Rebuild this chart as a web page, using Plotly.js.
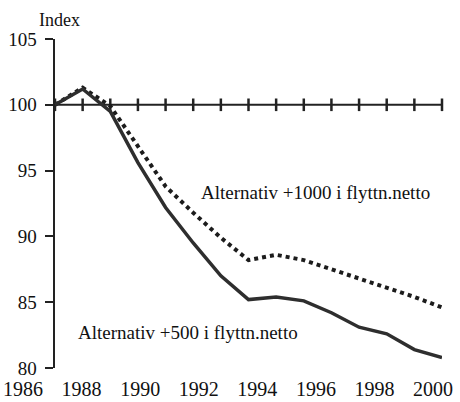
<!DOCTYPE html>
<html>
<head>
<meta charset="utf-8">
<script src="https://cdn.plot.ly/plotly-3.0.1.min.js"></script>
<style>
  html, body { margin: 0; padding: 0; background: #fff; }
  #chart { width: 460px; height: 402px; }
</style>
</head>
<body>
<div id="chart"></div>
<script>
// Years on the x axis
const years = [1986, 1987, 1988, 1989, 1990, 1991, 1992, 1993, 1994, 1995, 1996, 1997, 1998, 1999, 2000];
// Index base line (1986 = 100)
const baseIndex = [100, 100, 100, 100, 100, 100, 100, 100, 100, 100, 100, 100, 100, 100, 100];
// Alternativ +500 i flyttn.netto (solid)
const alt500 = [100, 101.2, 99.5, 95.6, 92.2, 89.5, 87.0, 85.2, 85.4, 85.1, 84.2, 83.1, 82.6, 81.4, 80.8];
// Alternativ +1000 i flyttn.netto (dotted)
const alt1000 = [100, 101.3, 99.9, 96.8, 93.8, 91.8, 89.9, 88.2, 88.6, 88.2, 87.5, 86.8, 86.1, 85.4, 84.6];
// Tick labels shown under the chart
const yearLabels = [1986, 1988, 1990, 1992, 1994, 1996, 1998, 2000];
const yTicks = [80, 85, 90, 95, 100, 105];

const serif = 'Liberation Serif, Times New Roman, serif';
const ink = '#222';

function renderChart(containerId) {
  const container = document.getElementById(containerId);
  if (!container) return;

  const traces = [
    {
      x: years, y: baseIndex,
      type: 'scatter', mode: 'lines+markers',
      line: { color: ink, width: 2 },
      marker: { symbol: 'line-ns-open', size: 9, line: { color: ink, width: 2.5 } },
      cliponaxis: false,
      hoverinfo: 'skip'
    },
    {
      x: years, y: alt1000,
      name: 'Alternativ +1000 i flyttn.netto',
      type: 'scatter', mode: 'lines',
      line: { color: '#1c1c1c', width: 4, dash: '4px,4px' },
      cliponaxis: false
    },
    {
      x: years, y: alt500,
      name: 'Alternativ +500 i flyttn.netto',
      type: 'scatter', mode: 'lines',
      line: { color: '#2e2e2e', width: 3.5 },
      cliponaxis: false
    },
    // empty trace so the label axis gets drawn
    {
      x: yearLabels, y: yearLabels.map(() => null),
      xaxis: 'x2', yaxis: 'y',
      type: 'scatter', mode: 'markers',
      hoverinfo: 'skip'
    }
  ];

  const layout = {
    width: 460,
    height: 402,
    paper_bgcolor: '#fff',
    plot_bgcolor: 'rgba(0,0,0,0)',
    font: { family: serif, size: 19, color: '#111' },
    margin: { t: 39, b: 34, l: 0, r: 0 },
    showlegend: false,
    xaxis: {
      domain: [55 / 460, 442 / 460],
      range: [1986, 2000],
      showticklabels: false,
      ticks: '',
      showline: false,
      showgrid: false,
      zeroline: false
    },
    // scanned year labels are spread wider than the tick marks
    xaxis2: {
      domain: [0, 1],
      anchor: 'y',
      side: 'bottom',
      range: [1985.215, 2000.92],
      tickmode: 'array',
      tickvals: yearLabels,
      ticktext: yearLabels.map(String),
      ticks: '',
      ticklabelstandoff: 7,
      showline: false,
      showgrid: false,
      zeroline: false,
      tickfont: { family: serif, size: 20, color: '#111' }
    },
    yaxis: {
      anchor: 'x',
      range: [80, 105],
      tickmode: 'array',
      tickvals: yTicks,
      ticks: 'outside',
      ticklen: 8,
      tickwidth: 2,
      tickcolor: ink,
      ticklabelstandoff: 4,
      showline: true,
      linecolor: ink,
      linewidth: 2.5,
      showgrid: false,
      zeroline: false,
      tickfont: { family: serif, size: 19, color: '#111' }
    },
    annotations: [
      { text: 'Index', xref: 'paper', yref: 'paper', x: 59 / 460, y: 1.058,
        xanchor: 'center', yanchor: 'middle',
        showarrow: false, font: { family: serif, size: 18, color: '#111' } },
      { text: 'Alternativ +1000 i flyttn.netto', x: 1995.44, y: 93.3,
        showarrow: false, font: { family: serif, size: 19, color: '#111' } },
      { text: 'Alternativ +500 i flyttn.netto', x: 1990.81, y: 82.66,
        showarrow: false, font: { family: serif, size: 19, color: '#111' } }
    ]
  };

  Plotly.newPlot(container, traces, layout, { staticPlot: true });
}

renderChart('chart');
</script>
</body>
</html>
